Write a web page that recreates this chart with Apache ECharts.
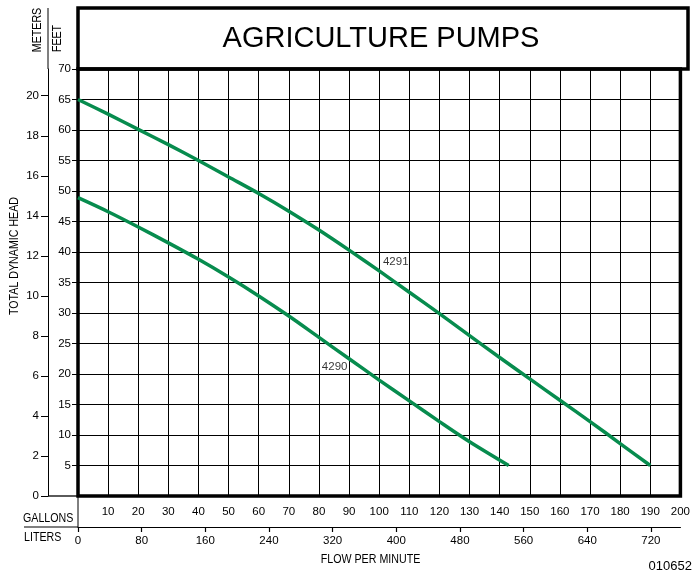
<!DOCTYPE html>
<html>
<head>
<meta charset="utf-8">
<script src="https://cdn.jsdelivr.net/npm/echarts@6/dist/echarts.min.js"></script>
<style>html,body{margin:0;padding:0;background:#fff;}#c{width:693px;height:573px;}</style>
</head>
<body>
<div id="c"></div>
<script>
// ---- data ----
var gallonLabels = [10,20,30,40,50,60,70,80,90,100,110,120,130,140,150,160,170,180,190,200];
var literTicks = [0,80,160,240,320,400,480,560,640,720];
var feetLabels = [5,10,15,20,25,30,35,40,45,50,55,60,65,70];
var meterTicks = [0,2,4,6,8,10,12,14,16,18,20];
var pump4291 = [[0,65],[10,62.6],[20,60.1],[30,57.6],[40,55.0],[50,52.3],[60,49.6],[70,46.7],[80,43.6],[90,40.3],[100,36.9],[110,33.4],[120,29.9],[130,26.3],[140,22.7],[150,19.2],[160,15.7],[170,12.2],[180,8.6],[190,5]];
var pump4290 = [[0,48.9],[10,46.6],[20,44.1],[30,41.5],[40,38.8],[50,35.9],[60,32.8],[70,29.5],[80,26.0],[90,22.5],[100,19.0],[110,15.6],[120,12.2],[130,8.9],[143,5]];
var curveLabels = [[105.5,38.4,'4291'],[85.2,21.1,'4290']];
var GAL_TO_L = 3.78541;
var FT_PER_M = 3.28084;

var RF = "'Liberation Sans',Arial,sans-serif";
var GREEN = '#078c4e';
var txt = {fontFamily: RF, fontSize: 11.5, color: '#000'};

var chart = echarts.init(document.getElementById('c'), null, {renderer: 'canvas'});
function narrow(t, x, y, align, rot) {
  return {type: 'text', x: x, y: y, rotation: rot || 0, scaleX: 0.82,
          style: {text: t, font: '13px ' + RF, textAlign: align, textVerticalAlign: 'middle', fill: '#000'}};
}
var option = {
  animation: false,
  backgroundColor: '#fff',
  grid: {left: 78, top: 69, width: 610, height: 427, show: true, borderColor: '#000', borderWidth: 3.5, backgroundColor: 'transparent'},
  xAxis: [
    {type: 'value', min: 0, max: 200, interval: 10, position: 'bottom',
     axisLine: {show: false, onZero: false}, axisTick: {show: false},
     splitLine: {show: true, lineStyle: {color: '#000', width: 1}},
     axisLabel: Object.assign({margin: 10, customValues: gallonLabels}, txt)},
    {type: 'value', min: 0, max: 200 * GAL_TO_L, position: 'bottom', offset: 31,
     axisLine: {show: true, onZero: false, lineStyle: {color: '#000', width: 1.2}},
     axisTick: {show: true, length: 5, customValues: literTicks, lineStyle: {color: '#000', width: 1.2}},
     axisLabel: Object.assign({margin: 8, customValues: literTicks}, txt),
     splitLine: {show: false}}
  ],
  yAxis: [
    {type: 'value', min: 0, max: 70, interval: 5, position: 'left',
     axisLine: {show: false, onZero: false},
     axisTick: {show: true, length: 6, customValues: feetLabels, lineStyle: {color: '#000'}},
     axisLabel: Object.assign({margin: 7, customValues: feetLabels}, txt),
     splitLine: {show: true, lineStyle: {color: '#000', width: 1}}},
    {type: 'value', min: 0, max: 70 / FT_PER_M, position: 'left', offset: 30,
     axisLine: {show: true, onZero: false, lineStyle: {color: '#000', width: 1}},
     axisTick: {show: true, length: 7, customValues: meterTicks, lineStyle: {color: '#000'}},
     axisLabel: Object.assign({margin: 9, customValues: meterTicks}, txt),
     splitLine: {show: false}}
  ],
  series: [
    {name: '4291', type: 'line', data: pump4291, smooth: 0.3, showSymbol: false,
     lineStyle: {color: GREEN, width: 3.5}, z: 5},
    {name: '4290', type: 'line', data: pump4290, smooth: 0.3, showSymbol: false,
     lineStyle: {color: GREEN, width: 3.5}, z: 5},
    {name: 'labels', type: 'scatter', data: curveLabels, symbolSize: 0, z: 6,
     label: Object.assign({show: true, position: 'inside', formatter: function (p) { return p.value[2]; }}, txt)}
  ],
  graphic: [
    {type: 'rect', shape: {x: 78, y: 8, width: 610, height: 61}, style: {fill: 'none', stroke: '#000', lineWidth: 3.5}},
    {type: 'text', x: 381, y: 39, style: {text: 'AGRICULTURE PUMPS', font: '29px ' + RF, textAlign: 'center', textVerticalAlign: 'middle', fill: '#000'}},
    {type: 'line', shape: {x1: 48, y1: 8, x2: 48, y2: 69}, style: {stroke: '#000', lineWidth: 1}},
    {type: 'line', shape: {x1: 48, y1: 496, x2: 78, y2: 496}, style: {stroke: '#000', lineWidth: 1.3}},
    {type: 'line', shape: {x1: 78, y1: 496, x2: 78, y2: 527}, style: {stroke: '#000', lineWidth: 1}},
    {type: 'line', shape: {x1: 24, y1: 527, x2: 78, y2: 527}, style: {stroke: '#000', lineWidth: 1.2}},
    narrow('METERS', 37, 30, 'center', Math.PI / 2),
    narrow('FEET', 57, 38.5, 'center', Math.PI / 2),
    narrow('TOTAL DYNAMIC HEAD', 14, 256, 'center', Math.PI / 2),
    narrow('GALLONS', 23, 518, 'left'),
    narrow('LITERS', 24, 537, 'left'),
    narrow('FLOW PER MINUTE', 370.5, 559, 'center'),
    {type: 'text', x: 692, y: 566, style: {text: '010652', font: '13px ' + RF, textAlign: 'right', textVerticalAlign: 'middle', fill: '#000'}}
  ]
};
chart.setOption(option);
</script>
</body>
</html>
